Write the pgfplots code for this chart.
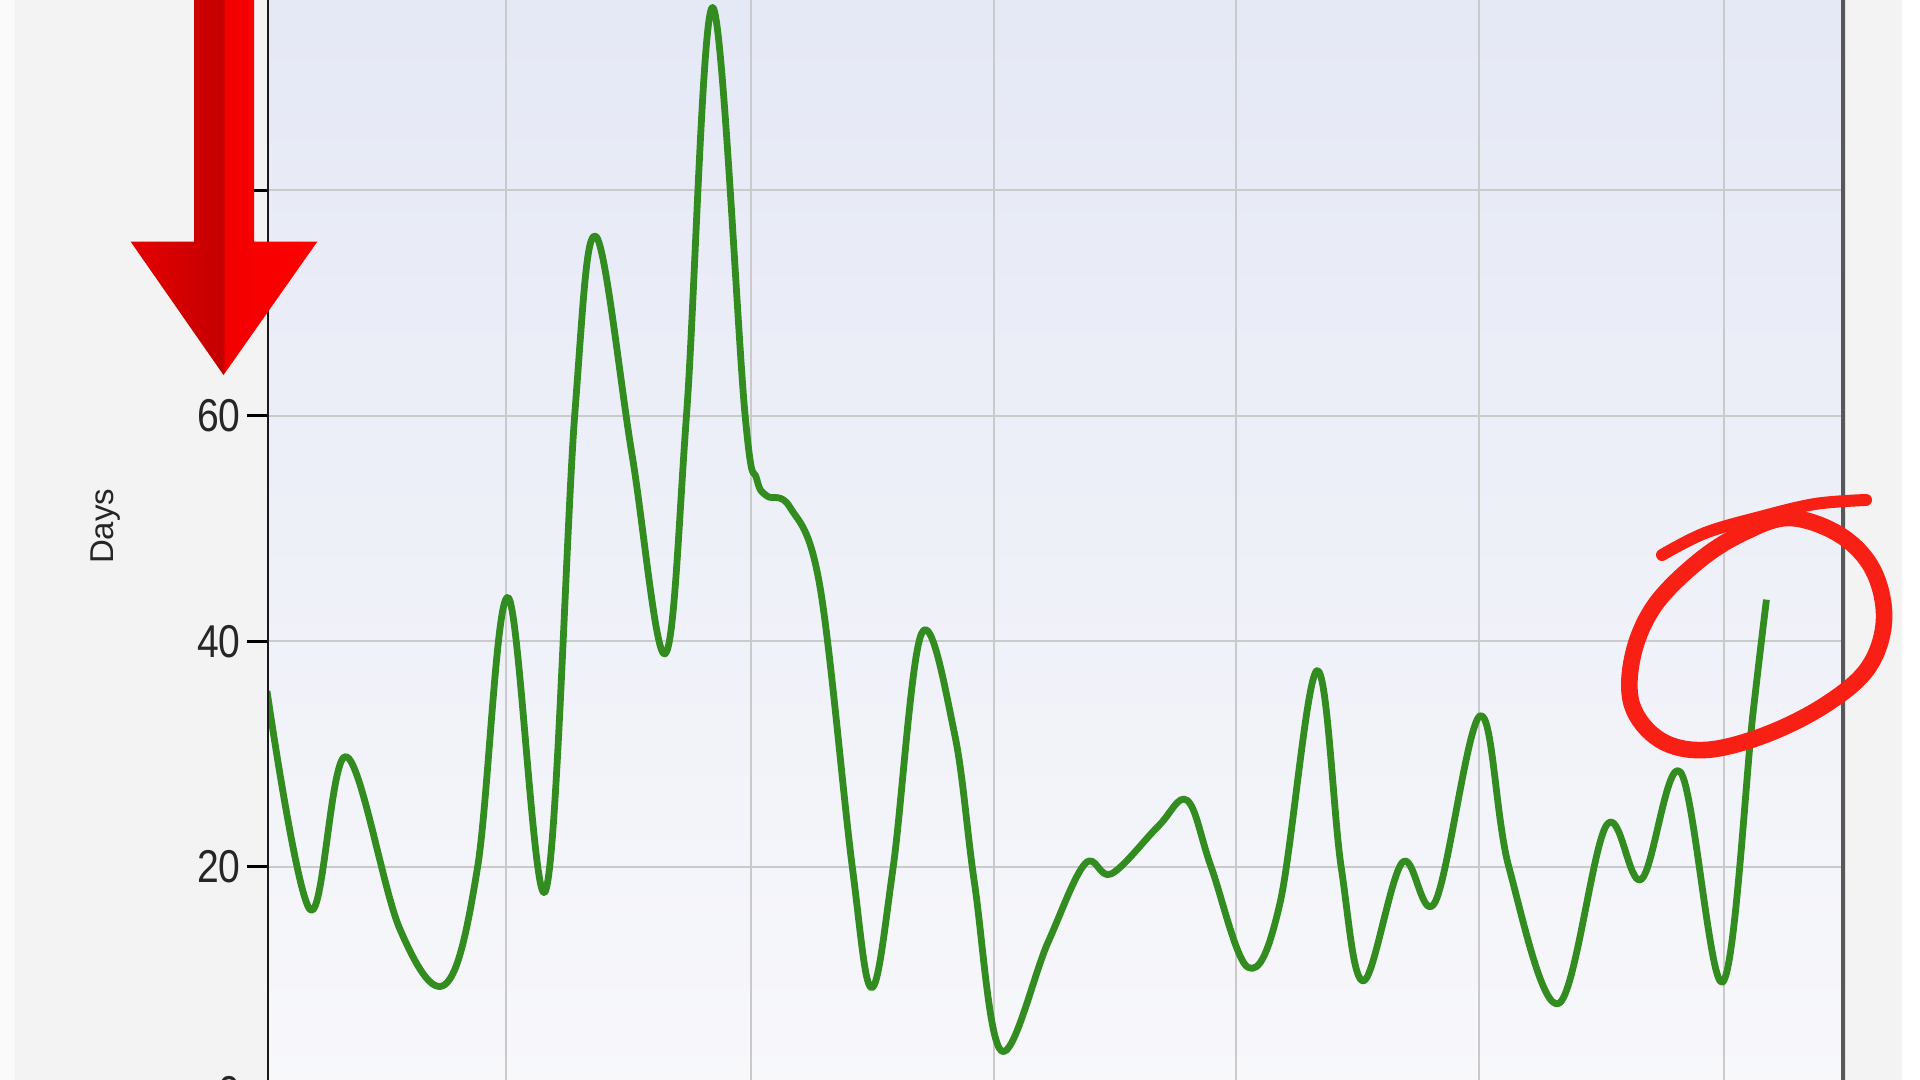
\documentclass[border=0pt]{standalone}
\usepackage{fontspec}
\setmainfont{Liberation Sans}
\newfontfamily\tickfont[FakeStretch=0.85]{Liberation Sans}
\usepackage{pgfplots}
\usepackage{pgfplotstable}
\pgfplotsset{compat=1.18}

\definecolor{plottop}{RGB}{228,232,245}
\definecolor{plotbot}{RGB}{248,248,251}
\definecolor{sidegray}{RGB}{243,243,243}
\definecolor{gridgray}{RGB}{202,202,202}
\definecolor{linegreen}{RGB}{50,140,32}
\definecolor{markred}{RGB}{248,32,20}
\definecolor{framegray}{RGB}{88,88,88}
\definecolor{ra}{RGB}{228,0,0}
\definecolor{rb}{RGB}{208,0,0}
\definecolor{rc}{RGB}{196,0,0}
\definecolor{rd}{RGB}{242,0,0}
\definecolor{re}{RGB}{255,0,0}
\pgfdeclarehorizontalshading{arrowred}{100bp}{color(0bp)=(ra); color(25bp)=(ra); color(41bp)=(rb); color(49.8bp)=(rc); color(50.2bp)=(rd); color(75bp)=(re); color(100bp)=(re)}

% days: peaks, troughs and a few points between
\pgfplotstableread{
k v
0 35.6
1.07 16.2
1.95 29.8
3.28 14.5
4.40 9.6
5.20 20.0
5.95 43.9
6.88 17.9
7.60 60.2
8.12 75.9
9.01 56.6
9.83 38.9
10.36 60.2
11.00 96.2
11.80 60.2
12.09 54.4
12.34 52.9
12.91 51.9
13.65 44.9
14.45 20.0
14.93 9.3
15.46 20.0
16.16 40.7
16.97 31.9
17.47 18.5
18.13 3.7
19.28 13.3
20.20 20.3
20.85 19.4
22.00 23.6
22.72 25.9
23.31 20.0
24.22 11.1
25.01 16.8
25.92 37.4
26.52 20.0
27.07 9.9
28.03 20.4
28.84 16.9
29.95 33.4
30.66 20.0
31.89 7.9
33.07 23.7
33.93 18.9
34.90 28.4
35.94 9.8
36.69 33.7
37.02 43.7
}\daysdata

\tikzset{px/.style={x=0.5pt,y=-0.5pt,yshift=540pt}}

\begin{document}
\begin{tikzpicture}
\useasboundingbox (0,0) rectangle (960pt,540pt);
\clip (0,0) rectangle (960pt,540pt);
\begin{scope}[px]
  \fill[sidegray] (0,0) rectangle (1920,1080);
  \fill[white!60!sidegray] (0,0) rectangle (15,1080);
  \fill[white] (1902,0) rectangle (1920,1080);
\end{scope}
\begin{axis}[
  at={(133.5pt,-6.3pt)}, anchor=south west,
  scale only axis, width=789pt, height=564pt,
  xmin=0, xmax=38.96, ymin=0, ymax=100,
  axis background/.style={shade, top color=plottop, bottom color=plotbot},
  axis line style={draw=none},
  xtick={5.90,11.95,17.94,23.93,29.93,35.98},
  xticklabels={}, xtick style={draw=none},
  ytick={0,20,40,60,80}, ytick pos=left,
  tick align=outside, major tick length=10pt,
  ytick style={black, line width=1.5pt},
  grid=major, major grid style={gridgray, line width=1pt},
  /pgf/number format/assume math mode=true,
  yticklabel style={font=\tickfont\fontsize{23pt}{24pt}\selectfont, text=black!85, inner xsep=3pt},
  ylabel=Days,
  ylabel style={at={(axis description cs:-0.102,0.502)}, anchor=center, font=\fontsize{16.5pt}{18pt}\selectfont, text=black!85},
]
\addplot[linegreen, line width=3.4pt, smooth, tension=0.6, line join=round] table[x=k, y=v] {\daysdata};
\draw[black!90, line width=2pt] (rel axis cs:0,0) -- (rel axis cs:0,1);
\draw[framegray, line width=3.8pt] (rel axis cs:1,0) -- (rel axis cs:1,1);
\end{axis}
\begin{scope}[px]
  % red arrow
  \shade[shading=arrowred] (194,-10) -- (194,241.7) -- (130.7,241.7) -- (223.5,375)
    -- (317.3,241.7) -- (254,241.7) -- (254,-10) -- cycle;
  % hand drawn ring
  \draw[markred, line width=8.3pt, line cap=round] plot[smooth cycle, tension=0.6] coordinates {
    (1790,518) (1840,535) (1873,570) (1884,620) (1868,668) (1825,705) (1765,735)
    (1705,750) (1660,740) (1632,705) (1633,655) (1655,605) (1700,560) (1745,532)};
  \draw[markred, line width=6pt, line cap=round] plot[smooth, tension=0.6] coordinates {
    (1662,555) (1705,533) (1760,517) (1815,504) (1866,500)};
\end{scope}
\end{tikzpicture}
\end{document}
